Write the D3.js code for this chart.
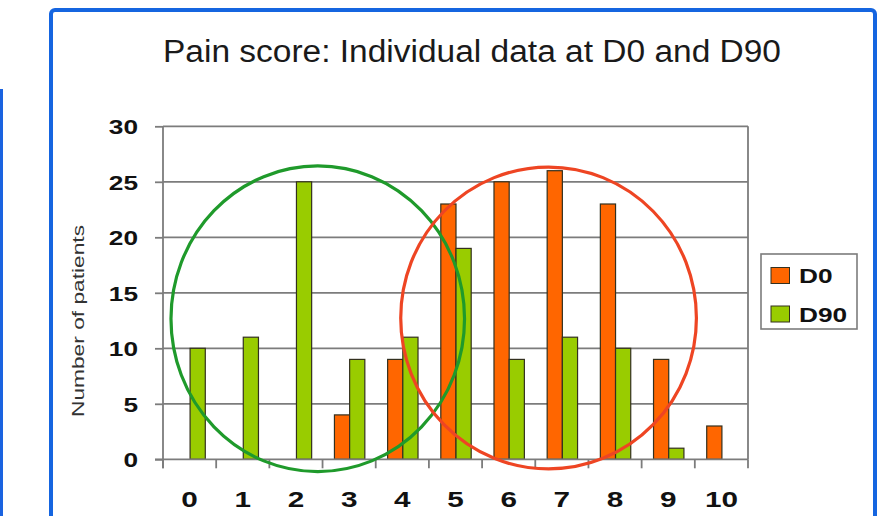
<!DOCTYPE html>
<html>
<head>
<meta charset="utf-8">
<script src="https://cdn.jsdelivr.net/npm/d3@7"></script>
<style>
  html, body { margin: 0; padding: 0; background: #fff; }
  svg { display: block; }
  text { font-family: "Liberation Sans", Arial, sans-serif; }
</style>
</head>
<body>
<svg id="chart" width="885" height="516"></svg>
<script>
// Pain scores 0..10 and number of patients at each score
const categories = ["0", "1", "2", "3", "4", "5", "6", "7", "8", "9", "10"];
const d0Values  = [0, 0, 0, 4, 9, 23, 25, 26, 23, 9, 3];
const d90Values = [10, 11, 25, 9, 11, 19, 9, 11, 10, 1, 0];
const seriesNames = ["D0", "D90"];
const seriesColors = ["#ff6600", "#99cc00"];
const yTicks = [0, 5, 10, 15, 20, 25, 30];
const titleText = "Pain score: Individual data at D0 and D90";
const yLabel = "Number of patients";

// Highlight rings: centre in (score, patients), radii in score units / patient units
const ringCat   = [2.41, 6.75];
const ringValue = [12.66, 12.73];
const ringRx    = [2.76, 2.78];
const ringRy    = [13.77, 13.6];
const ringColor = ["#1f9a2b", "#ee4523"];

const svg = d3.select("#chart");

// Outer frames
svg.append("rect")
  .attr("x", 0).attr("y", 89).attr("width", 3).attr("height", 440)
  .attr("fill", "#1a63e0");
svg.append("rect")
  .attr("x", 51).attr("y", 10).attr("width", 824).attr("height", 530)
  .attr("rx", 4)
  .attr("fill", "#fff").attr("stroke", "#1565e0").attr("stroke-width", 4);

const plot = { left: 163, right: 748, top: 126.3, bottom: 459.3 };
const axisColor = "#7c7c7c";

const x0 = d3.scaleBand().domain(categories).range([plot.left, plot.right]).padding(0);
const bw = x0.bandwidth();
const x1 = d3.scaleBand().domain(seriesNames).range([bw * 0.2143, bw * 0.7857]).padding(0);
const xLin = d3.scaleLinear().domain([0, categories.length]).range([plot.left, plot.right]);
const y = d3.scaleLinear().domain([0, 30]).range([plot.bottom, plot.top]);

// Title
svg.append("text")
  .attr("x", 163).attr("y", 61.5)
  .attr("font-size", 31).attr("fill", "#1a1a1a")
  .attr("textLength", 618).attr("lengthAdjust", "spacingAndGlyphs")
  .text(titleText);

// Gridlines
svg.append("g").selectAll("line")
  .data(yTicks.filter(t => t > 0))
  .join("line")
  .attr("x1", plot.left).attr("x2", plot.right)
  .attr("y1", d => y(d)).attr("y2", d => y(d))
  .attr("stroke", axisColor).attr("stroke-width", 1.8);

// Right border of plot area
svg.append("line")
  .attr("x1", plot.right).attr("x2", plot.right)
  .attr("y1", plot.top).attr("y2", plot.bottom)
  .attr("stroke", axisColor).attr("stroke-width", 1.8);

// Bars
const series = [d0Values, d90Values];
const barData = [];
categories.forEach((c, i) => {
  seriesNames.forEach((s, j) => {
    if (series[j][i] > 0) barData.push({ cat: c, s: s, v: series[j][i], color: seriesColors[j] });
  });
});
svg.append("g").selectAll("rect")
  .data(barData)
  .join("rect")
  .attr("x", d => x0(d.cat) + x1(d.s) + 0.5)
  .attr("width", x1.bandwidth())
  .attr("y", d => y(d.v))
  .attr("height", d => y(0) - y(d.v))
  .attr("fill", d => d.color)
  .attr("stroke", "#33301f").attr("stroke-width", 1.2);

// Y axis
const yAxis = svg.append("g")
  .attr("transform", `translate(${plot.left},0)`)
  .call(d3.axisLeft(y).tickValues(yTicks).tickSize(8).tickPadding(0));
yAxis.select(".domain")
  .attr("d", `M0,${plot.top}V${plot.bottom + 9}`)
  .attr("stroke", axisColor).attr("stroke-width", 1.8);
yAxis.selectAll(".tick line").attr("stroke", axisColor).attr("stroke-width", 1.8);
yAxis.selectAll(".tick text")
  .attr("x", -25 / 1.25).attr("dy", "0.36em")
  .attr("transform", "scale(1.25,1)")
  .attr("font-size", 21).attr("font-weight", "bold").attr("fill", "#111")
  .attr("font-family", "'Liberation Sans', Arial, sans-serif");

// X axis (ticks on category boundaries)
const xAxisG = svg.append("g").attr("transform", `translate(0,${plot.bottom})`);
xAxisG.append("line")
  .attr("x1", plot.left - 8).attr("x2", plot.right)
  .attr("y1", 0).attr("y2", 0)
  .attr("stroke", axisColor).attr("stroke-width", 1.8);
xAxisG.selectAll("line.b")
  .data(d3.range(categories.length + 1))
  .join("line").attr("class", "b")
  .attr("x1", d => xLin(d)).attr("x2", d => xLin(d))
  .attr("y1", 0).attr("y2", 9)
  .attr("stroke", axisColor).attr("stroke-width", 1.8);
xAxisG.selectAll("text")
  .data(categories)
  .join("text")
  .attr("transform", d => `translate(${x0(d) + bw / 2},48) scale(1.35,1)`)
  .attr("text-anchor", "middle")
  .attr("font-size", 22).attr("font-weight", "bold").attr("fill", "#111")
  .text(d => d);

// Y axis title
svg.append("text")
  .attr("transform", "translate(84,321) rotate(-90)")
  .attr("text-anchor", "middle")
  .attr("font-size", 16.5).attr("fill", "#333")
  .attr("textLength", 192).attr("lengthAdjust", "spacingAndGlyphs")
  .text(yLabel);

// Rings
svg.append("g").selectAll("ellipse")
  .data(ringCat.map((c, i) => i))
  .join("ellipse")
  .attr("cx", i => xLin(ringCat[i] + 0.5))
  .attr("cy", i => y(ringValue[i]))
  .attr("rx", i => xLin(ringRx[i]) - xLin(0))
  .attr("ry", i => y(0) - y(ringRy[i]))
  .attr("fill", "none")
  .attr("stroke", i => ringColor[i])
  .attr("stroke-width", 3.2);

// Legend
const lg = svg.append("g");
lg.append("rect")
  .attr("x", 761).attr("y", 254).attr("width", 96).attr("height", 75)
  .attr("fill", "#fff").attr("stroke", axisColor).attr("stroke-width", 1.6);
seriesNames.forEach((s, i) => {
  const ty = 267.5 + i * 38.5;
  lg.append("rect")
    .attr("x", 771).attr("y", ty).attr("width", 18.5).attr("height", 16)
    .attr("fill", seriesColors[i]).attr("stroke", "#33301f").attr("stroke-width", 1);
  lg.append("text")
    .attr("transform", `translate(799,${ty + 15.8}) scale(1.25,1)`)
    .attr("font-size", 21).attr("font-weight", "bold").attr("fill", "#111")
    .text(s);
});
</script>
</body>
</html>
